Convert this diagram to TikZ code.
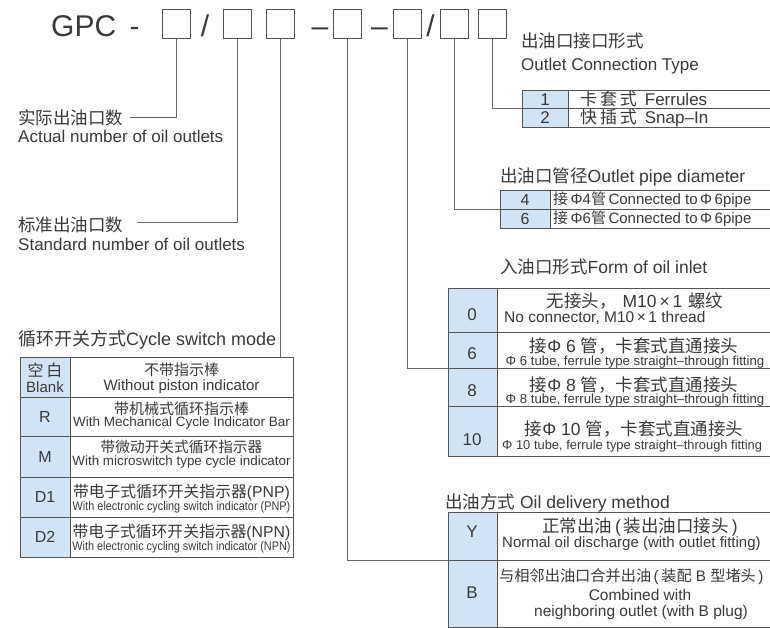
\documentclass[tikz,border=0pt]{standalone}
\usepackage{fontspec}
\usepackage{graphicx}
\setmainfont{Liberation Sans}
\newfontfamily\cjk{Noto Sans CJK SC}
\definecolor{txt}{HTML}{3A3A3A}
\definecolor{ln}{HTML}{555555}
\definecolor{cn}{HTML}{6A6A6A}
\definecolor{cellblue}{HTML}{D2E4F4}
\newcommand\fsz[1]{\fontsize{#1}{#1}\selectfont}
\newcommand\myrow[5]{%
  \fill[cellblue] (#1,#4) rectangle (#2,#5);
  \draw[tline] (#1,#4) rectangle (#3,#5);
  \draw[tline] (#2,#4) -- (#2,#5);
}
\tikzset{
  txtn/.style={inner sep=0pt, text=txt},
  hbox/.style={draw=ln, line width=1pt, minimum width=28pt, minimum height=29pt, inner sep=0pt, fill=white},
  conn/.style={draw=cn, line width=0.8pt},
  tline/.style={draw=ln, line width=0.9pt},
}
\begin{document}
\begin{tikzpicture}[x=1pt,y=-1pt]
\useasboundingbox (0,0) rectangle (770,628);
\clip (0,0) rectangle (770,628);
\fill[white] (0,0) rectangle (770,628);

% ---------- header ----------
\node[txtn, anchor=base west, font=\fsz{30}] (gpc) at (51,37) {GPC\hspace{5pt} -};
\node[hbox] (b1) at (176,24.5) {};
\node[txtn, anchor=base, font=\fsz{30}] (s1) at (205,37) {/};
\node[hbox] (b2) at (237,24.5) {};
\node[hbox] (b3) at (280,24.5) {};
\node[txtn, anchor=base, font=\fsz{30}] (d1) at (320,37) {–};
\node[hbox] (b4) at (347.5,24.5) {};
\node[txtn, anchor=base, font=\fsz{30}] (d2) at (379.5,37) {–};
\node[hbox] (b5) at (407.5,24.5) {};
\node[txtn, anchor=base, font=\fsz{30}] (s2) at (430.5,37) {/};
\node[hbox] (b6) at (454,24.5) {};
\node[hbox] (b7) at (492,24.5) {};

% ---------- left labels ----------
\node[txtn, anchor=west, font=\fsz{17.5}] (a1c) at (18,118) {\cjk 实际出油口数};
\node[txtn, anchor=base west, font=\fsz{17}] (a1e) at (18,143) {Actual number of oil outlets};
\node[txtn, anchor=west, font=\fsz{17.5}] (a2c) at (18,225) {\cjk 标准出油口数};
\node[txtn, anchor=base west, font=\fsz{17}] (a2e) at (18,250) {Standard number of oil outlets};

% ---------- table T1 ----------
\node[txtn, anchor=west, font=\fsz{17.5}] (t1c) at (521,41) {\cjk 出油口接口形式};
\node[txtn, anchor=base west, font=\fsz{17}] (t1e) at (521,71) {Outlet Connection Type};
\myrow{522}{568}{775}{90}{108.5}
\myrow{522}{568}{775}{108.5}{127}
\node[txtn, font=\fsz{17}] (n11) at (545,99.5) {1};
\node[txtn, font=\fsz{17}] (n12) at (545,118) {2};
\node[txtn, anchor=west, font=\fsz{17}] (r11) at (580,99.5) {{\cjk 卡\,套\,式}\hspace{8pt}Ferrules};
\node[txtn, anchor=west, font=\fsz{17}] (r12) at (580,118) {{\cjk 快\,插\,式}\hspace{8pt}Snap–In};

% ---------- table T2 ----------
\node[txtn, anchor=west, font=\fsz{17.5}] (t2) at (500,177) {{\cjk 出油口管径}Outlet pipe diameter};
\myrow{500}{550}{775}{190}{209}
\myrow{500}{550}{775}{209}{228}
\node[txtn, font=\fsz{16}] (n21) at (525,199.5) {4};
\node[txtn, font=\fsz{16}] (n22) at (525,218.5) {6};
\node[txtn, anchor=west, font=\fsz{15}] (r21) at (553,199.5) {{\cjk 接}\,Φ4{\cjk 管}\,Connected to\,Φ\,6pipe};
\node[txtn, anchor=west, font=\fsz{15}] (r22) at (553,218.5) {{\cjk 接}\,Φ6{\cjk 管}\,Connected to\,Φ\,6pipe};

% ---------- table T3 ----------
\node[txtn, anchor=west, font=\fsz{17.5}] (t3) at (500,267) {{\cjk 入油口形式}Form of oil inlet};
\myrow{448}{497}{775}{288}{332}
\myrow{448}{497}{775}{332}{368}
\myrow{448}{497}{775}{368}{406}
\myrow{448}{497}{775}{406}{456}
\node[txtn, font=\fsz{17}] (n30) at (472,315) {0};
\node[txtn, font=\fsz{17}] (n31) at (472,354) {6};
\node[txtn, font=\fsz{17}] (n32) at (472,391) {8};
\node[txtn, font=\fsz{17}] (n33) at (472,440) {10};
\node[txtn, font=\fsz{17.5}] (r30c) at (635,301) {{\cjk 无接头，}\hspace{6pt}M10\,×\,1\hspace{6pt}{\cjk 螺纹}};
\node[txtn, anchor=west, font=\fsz{15.5}] (r30e) at (504,318) {No connector, M10\,×\,1 thread};
\node[txtn, font=\fsz{17.5}] (r31c) at (634,346) {{\cjk 接}Φ 6 {\cjk 管，卡套式直通接头}};
\node[txtn, font=\fsz{13.2}] (r31e) at (635,362.5) {Φ 6 tube, ferrule type straight–through fitting};
\node[txtn, font=\fsz{17.5}] (r32c) at (634,385) {{\cjk 接}Φ 8 {\cjk 管，卡套式直通接头}};
\node[txtn, font=\fsz{13.2}] (r32e) at (635,400.5) {Φ 8 tube, ferrule type straight–through fitting};
\node[txtn, font=\fsz{17.5}] (r33c) at (634,429) {{\cjk 接}Φ 10 {\cjk 管，卡套式直通接头}};
\node[txtn, anchor=west, font=\fsz{12.9}] (r33e) at (502,446) {Φ 10 tube, ferrule type straight–through fitting};

% ---------- table T4 ----------
\node[txtn, anchor=west, font=\fsz{17.5}] (t4) at (445,503) {{\cjk 出油方式} Oil delivery method};
\myrow{448}{497}{783}{512}{560}
\myrow{448}{497}{783}{560}{627}
\node[txtn, font=\fsz{17}] (n41) at (472,532) {Y};
\node[txtn, font=\fsz{17}] (n42) at (472,593) {B};
\node[txtn, font=\fsz{17.5}] (r41c) at (640,527) {{\cjk 正常出油}\,(\,{\cjk 装出油口接头}\,)};
\node[txtn, anchor=west, font=\fsz{15}] (r41e) at (502,544) {Normal oil discharge (with outlet fitting)};
\node[txtn, anchor=west, font=\fsz{15.2}] (r42c) at (499,577) {{\cjk 与相邻出油口合并出油}\,(\,{\cjk 装配} B {\cjk 型堵头}\,)};
\node[txtn, font=\fsz{15.5}] (r42e) at (640,594.5) {Combined with};
\node[txtn, font=\fsz{15.5}] (r42f) at (641,612.5) {neighboring outlet (with B plug)};

% ---------- left table ----------
\node[txtn, anchor=west, font=\fsz{18}] (lt) at (18,340) {{\cjk 循环开关方式}Cycle switch mode};
\myrow{20}{70}{293}{357}{397}
\myrow{20}{70}{293}{397}{436}
\myrow{20}{70}{293}{436}{477}
\myrow{20}{70}{293}{477}{517}
\myrow{20}{70}{293}{517}{557}
\node[txtn, font=\fsz{16}] (k0a) at (45,370) {\cjk 空\,白};
\node[txtn, font=\fsz{15}] (k0b) at (45,387) {Blank};
\node[txtn, font=\fsz{16}] (k1) at (45,417) {R};
\node[txtn, font=\fsz{16}] (k2) at (45,457) {M};
\node[txtn, font=\fsz{16}] (k3) at (45,497) {D1};
\node[txtn, font=\fsz{16}] (k4) at (45,537) {D2};
\node[txtn, font=\fsz{15}] (v0a) at (181.5,370) {\cjk 不带指示棒};
\node[txtn, font=\fsz{15}] (v0b) at (181.5,387) {Without piston indicator};
\node[txtn, font=\fsz{15}] (v1a) at (181.5,409) {\cjk 带机械式循环指示棒};
\node[txtn, font=\fsz{13.5}] (v1b) at (181.5,423) {With Mechanical Cycle Indicator Bar};
\node[txtn, font=\fsz{14.7}] (v2a) at (181.5,447) {\cjk 带微动开关式循环指示器};
\node[txtn, font=\fsz{13.4}] (v2b) at (181.5,462) {With microswitch type cycle indicator};
\node[txtn, font=\fsz{15.8}] (v3a) at (181.5,492) {{\cjk 带电子式循环开关指示器}(PNP)};
\node[txtn, font=\fsz{12.5}] (v3b) at (181.5,507) {\scalebox{0.87}[1]{With electronic cycling switch indicator (PNP)}};
\node[txtn, font=\fsz{15.8}] (v4a) at (181.5,532) {{\cjk 带电子式循环开关指示器}(NPN)};
\node[txtn, font=\fsz{12.5}] (v4b) at (181.5,547) {\scalebox{0.87}[1]{With electronic cycling switch indicator (NPN)}};

% ---------- connectors ----------
\coordinate (e1) at (130,117);
\coordinate (e2) at (137,222);
\coordinate (e3) at (280,357);
\coordinate (e4) at (448,560);
\coordinate (e5) at (448,368);
\coordinate (e6) at (500,209);
\coordinate (e7) at (522,108.5);
\draw[conn] (b1.south) |- (e1);
\draw[conn] (b2.south) |- (e2);
\draw[conn] (b3.south) -- (e3);
\draw[conn] (b4.south) |- (e4);
\draw[conn] (b5.south) |- (e5);
\draw[conn] (b6.south) |- (e6);
\draw[conn] (b7.south) |- (e7);
\end{tikzpicture}
\end{document}
